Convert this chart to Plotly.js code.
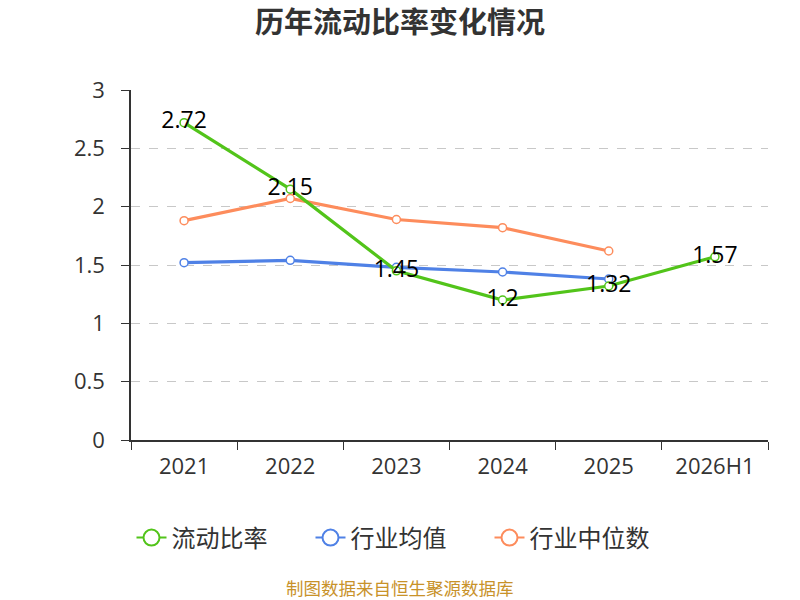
<!DOCTYPE html>
<html>
<head>
<meta charset="utf-8">
<script src="https://cdn.plot.ly/plotly-3.0.1.min.js"></script>
<style>
  body { margin: 0; background: #fff; }
  #chart { width: 800px; height: 600px; }
</style>
</head>
<body>
<div id="chart"></div>
<script>
const years = ['2021', '2022', '2023', '2024', '2025', '2026H1'];
const liudongBilv = [2.72, 2.15, 1.45, 1.2, 1.32, 1.57];
const hangyeJunzhi = [1.52, 1.54, 1.48, 1.44, 1.38];
const hangyeZhongwei = [1.88, 2.07, 1.89, 1.82, 1.62];

const nomes = ['流动比率', '行业均值', '行业中位数'];
const cores = ['#52c41a', '#4f81e6', '#fd8c5c'];

const fonte = '"Noto Sans CJK SC", "Noto Sans", sans-serif';
const fonteNum = '"Open Sans", "Noto Sans CJK SC", sans-serif';

// centro da pagina em coordenadas do papel (area do grafico 131..768)
const centroPagina = (400 - 131) / (800 - 131 - 32);

function serie(nome, valores, cor, comTexto) {
  const s = {
    x: years.slice(0, valores.length),
    y: valores,
    name: nome,
    type: 'scatter',
    mode: comTexto ? 'lines+markers+text' : 'lines+markers',
    line: { color: cor, width: 3.2 },
    marker: { color: '#fff', size: 8, line: { color: cor, width: 1.5 } },
    showlegend: false,
    cliponaxis: false
  };
  if (comTexto) {
    s.text = valores.map(v => String(v));
    s.textposition = 'middle center';
    s.textfont = { family: fonteNum, size: 23, color: '#000' };
  }
  return s;
}

// so para a legenda (linha fina, circulo grande)
function legenda(nome, cor, i) {
  return {
    x: [null], y: [null],
    name: nome,
    type: 'scatter',
    mode: 'lines+markers',
    line: { color: cor, width: 2 },
    marker: { color: '#fff', size: 17, line: { color: cor, width: 2 } },
    legendrank: i + 1,
    hoverinfo: 'skip'
  };
}

const data = [
  serie(nomes[1], hangyeJunzhi, cores[1], false),
  serie(nomes[2], hangyeZhongwei, cores[2], false),
  serie(nomes[0], liudongBilv, cores[0], true)
];
nomes.forEach((n, i) => data.push(legenda(n, cores[i], i)));

const layout = {
  width: 800,
  height: 600,
  margin: { l: 131, r: 32, t: 90, b: 160 },
  paper_bgcolor: '#fff',
  plot_bgcolor: '#fff',
  font: { family: fonte, color: '#333' },
  title: {
    text: '<b>历年流动比率变化情况</b>',
    x: 0.5, xanchor: 'center',
    y: 0.962, yanchor: 'middle',
    font: { family: fonte, size: 29, color: '#333' }
  },
  xaxis: {
    type: 'category',
    categoryorder: 'array',
    categoryarray: years,
    range: [-0.5, 5.5],
    showline: true, linecolor: '#333', linewidth: 1.5,
    ticks: 'outside', tickson: 'boundaries', ticklen: 8, tickcolor: '#333',
    ticklabelstandoff: 6,
    showgrid: false,
    tickfont: { family: fonteNum, size: 22, color: '#333' }
  },
  yaxis: {
    range: [0, 3],
    dtick: 0.5,
    showline: true, linecolor: '#333', linewidth: 1.5,
    ticks: 'outside', ticklen: 8, tickcolor: '#333',
    ticklabelstandoff: 12,
    gridcolor: '#c8c8c8', griddash: 'dash', gridwidth: 1.2,
    zeroline: false,
    tickfont: { family: fonteNum, size: 22, color: '#333' }
  },
  showlegend: true,
  legend: {
    orientation: 'h',
    x: centroPagina, xanchor: 'center',
    y: -0.28, yanchor: 'middle',
    traceorder: 'normal',
    entrywidth: 134,
    font: { family: fonte, size: 24, color: '#333' }
  },
  annotations: [{
    text: '制图数据来自恒生聚源数据库',
    xref: 'paper', yref: 'paper',
    x: centroPagina, y: -0.42,
    xanchor: 'center', yanchor: 'middle',
    showarrow: false,
    font: { family: fonte, size: 17.5, color: '#c8922a' }
  }]
};

Plotly.newPlot('chart', data, layout, { displayModeBar: false });
</script>
</body>
</html>
